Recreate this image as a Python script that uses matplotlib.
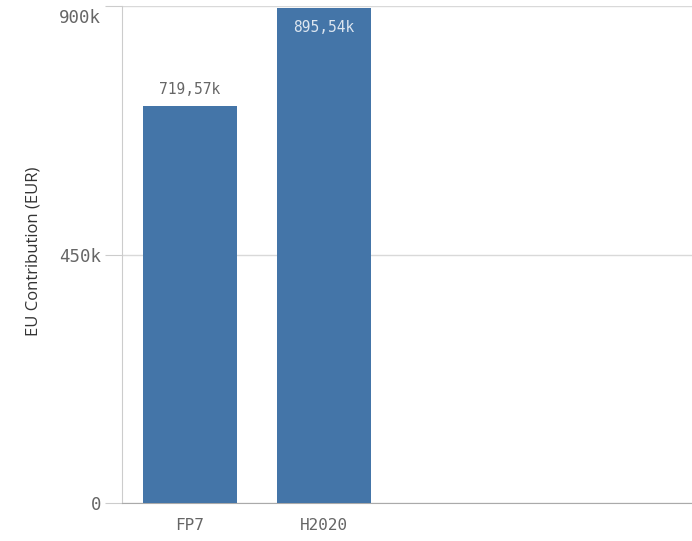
import matplotlib.pyplot as plt
import matplotlib.transforms as mtransforms

# Data
programmes = ['FP7', 'H2020']
contribution = [719570, 895540]
value_labels = ['719,57k', '895,54k']
y_ticks = [0, 450000, 900000]
y_tick_labels = ['0', '450k', '900k']

bar_color = '#4475a8'
text_gray = '#666666'

fig = plt.figure(figsize=(6.92, 5.41), dpi=100)
ax = fig.add_axes([0.1763, 0.0702, 0.8237, 0.9187])

x = range(len(programmes))
bars = ax.bar(x, contribution, width=0.70, color=bar_color, zorder=3)

ax.set_xlim(-0.507, 3.746)
ax.set_ylim(0, 900000)
ax.set_xticks(list(x))
ax.set_xticklabels(programmes, family='DejaVu Sans Mono', fontsize=11.5, color=text_gray)
ax.set_yticks(y_ticks)
ax.set_yticklabels(y_tick_labels, family='DejaVu Sans Mono', fontsize=12.5, color=text_gray)
ax.tick_params(axis='x', length=0, pad=11)
ax.tick_params(axis='y', length=12, color='#cccccc', pad=3)

# top tick label sits a bit below its gridline so it is not clipped
top_lab = ax.get_yticklabels()[-1]
top_lab.set_transform(top_lab.get_transform() +
                      mtransforms.ScaledTranslation(0, -10 / 100, fig.dpi_scale_trans))

ax.grid(axis='y', color='#d9d9d9', linewidth=1, zorder=0)
for s in ['top', 'right']:
    ax.spines[s].set_visible(False)
ax.spines['left'].set_color('#cccccc')
ax.spines['bottom'].set_color('#aaaaaa')

# y axis title placed in figure coords
fig.text(34 / 692, 1 - 251 / 541, 'EU Contribution (EUR)', rotation=90, ha='center', va='center',
         family=['Open Sans', 'DejaVu Sans'], fontsize=12, color='#333333')

# value labels: outside if room, inside for the tallest bar
for xi, val, lab in zip(x, contribution, value_labels):
    if val > 850000:
        ax.annotate(lab, (xi, val), xytext=(0, -8), textcoords='offset points',
                    ha='center', va='top', family='DejaVu Sans Mono', fontsize=10.5, color='#dde6f0')
    else:
        ax.annotate(lab, (xi, val), xytext=(0, 6), textcoords='offset points',
                    ha='center', va='bottom', family='DejaVu Sans Mono', fontsize=10.5, color=text_gray)

fig.savefig('out.png', dpi=100)
